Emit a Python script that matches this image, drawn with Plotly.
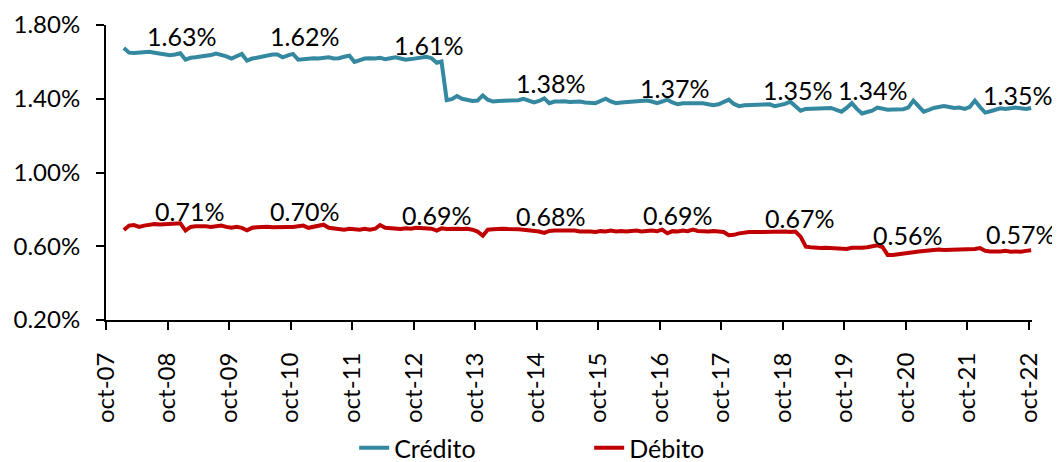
import pandas as pd
import plotly.graph_objects as go

# monthly observations, jan-08 .. oct-22 (percent)
credito = [
    # 2008
    1.675, 1.650, 1.648, 1.650, 1.652, 1.655, 1.650, 1.645, 1.638, 1.636, 1.640, 1.647,
    # 2009
    1.612, 1.622, 1.625, 1.628, 1.632, 1.637, 1.645, 1.640, 1.630, 1.618, 1.628, 1.643,
    # 2010
    1.607, 1.618, 1.622, 1.628, 1.630, 1.640, 1.640, 1.625, 1.635, 1.643, 1.612, 1.616,
    # 2011
    1.615, 1.620, 1.618, 1.622, 1.625, 1.618, 1.620, 1.628, 1.633, 1.600, 1.610, 1.618,
    # 2012
    1.620, 1.618, 1.622, 1.615, 1.620, 1.625, 1.618, 1.612, 1.615, 1.620, 1.625, 1.628,
    # 2013
    1.620, 1.595, 1.602, 1.393, 1.398, 1.415, 1.400, 1.393, 1.388, 1.390, 1.418, 1.395,
    # 2014
    1.385, 1.388, 1.390, 1.392, 1.394, 1.392, 1.400, 1.390, 1.380, 1.388, 1.402, 1.376,
    # 2015
    1.385, 1.385, 1.387, 1.383, 1.386, 1.385, 1.380, 1.378, 1.376, 1.388, 1.400, 1.385,
    # 2016
    1.376, 1.380, 1.382, 1.380, 1.383, 1.385, 1.390, 1.385, 1.376, 1.385, 1.395, 1.380,
    # 2017
    1.370, 1.376, 1.376, 1.378, 1.376, 1.375, 1.370, 1.365, 1.370, 1.385, 1.395, 1.372,
    # 2018
    1.360, 1.365, 1.365, 1.367, 1.365, 1.368, 1.370, 1.360, 1.365, 1.372, 1.384, 1.360,
    # 2019
    1.335, 1.345, 1.345, 1.347, 1.345, 1.348, 1.350, 1.340, 1.330, 1.350, 1.376, 1.345,
    # 2020
    1.320, 1.328, 1.335, 1.352, 1.345, 1.340, 1.342, 1.345, 1.343, 1.352, 1.390, 1.360,
    # 2021
    1.330, 1.340, 1.350, 1.355, 1.360, 1.355, 1.350, 1.352, 1.345, 1.355, 1.390, 1.355,
    # 2022
    1.325, 1.332, 1.340, 1.348, 1.345, 1.350, 1.352, 1.348, 1.345, 1.350,
]

debito = [
    # 2008
    0.688, 0.712, 0.715, 0.705, 0.712, 0.718, 0.720, 0.718, 0.720, 0.720, 0.722, 0.725,
    # 2009
    0.685, 0.705, 0.708, 0.710, 0.708, 0.705, 0.710, 0.712, 0.705, 0.700, 0.705, 0.700,
    # 2010
    0.687, 0.700, 0.703, 0.705, 0.706, 0.703, 0.705, 0.708, 0.705, 0.705, 0.708, 0.712,
    # 2011
    0.700, 0.705, 0.708, 0.717, 0.700, 0.698, 0.695, 0.690, 0.695, 0.693, 0.690, 0.695,
    # 2012
    0.690, 0.695, 0.715, 0.700, 0.697, 0.695, 0.693, 0.697, 0.695, 0.700, 0.698, 0.700,
    # 2013
    0.695, 0.685, 0.697, 0.693, 0.695, 0.695, 0.693, 0.695, 0.690, 0.680, 0.657, 0.690,
    # 2014
    0.692, 0.695, 0.695, 0.693, 0.695, 0.692, 0.690, 0.688, 0.685, 0.680, 0.672, 0.683,
    # 2015
    0.685, 0.685, 0.687, 0.683, 0.685, 0.680, 0.682, 0.680, 0.678, 0.682, 0.680, 0.685,
    # 2016
    0.680, 0.683, 0.680, 0.682, 0.685, 0.680, 0.683, 0.685, 0.682, 0.690, 0.670, 0.682,
    # 2017
    0.680, 0.685, 0.682, 0.690, 0.683, 0.680, 0.680, 0.682, 0.677, 0.677, 0.660, 0.662,
    # 2018
    0.670, 0.675, 0.677, 0.677, 0.678, 0.677, 0.676, 0.678, 0.677, 0.680, 0.677, 0.680,
    # 2019
    0.652, 0.598, 0.595, 0.592, 0.590, 0.592, 0.590, 0.593, 0.588, 0.585, 0.592, 0.590,
    # 2020
    0.592, 0.595, 0.600, 0.605, 0.596, 0.553, 0.553, 0.558, 0.560, 0.565, 0.568, 0.572,
    # 2021
    0.575, 0.578, 0.578, 0.582, 0.580, 0.580, 0.580, 0.580, 0.580, 0.582, 0.585, 0.590,
    # 2022
    0.575, 0.572, 0.570, 0.572, 0.575, 0.570, 0.572, 0.570, 0.575, 0.578,
]

fechas = pd.date_range("2008-01-01", "2022-10-01", freq="MS") + pd.Timedelta(days=14)

tick_fechas = [f"{y}-10-01" for y in range(2007, 2023)]
tick_textos = [f"oct-{y % 100:02d}" for y in range(2007, 2023)]

y_ticks = [0.2, 0.6, 1.0, 1.4, 1.8]
y_textos = [f"{v:.2f}%" for v in y_ticks]

etiquetas_credito = ["1.63%", "1.62%", "1.61%", "1.38%", "1.37%", "1.35%", "1.34%", "1.35%"]
etiquetas_debito = ["0.71%", "0.70%", "0.69%", "0.68%", "0.69%", "0.67%", "0.56%", "0.57%"]

# where each label sits (date, y in axis units)
pos_credito = [("2008-12-20", 1.740), ("2010-12-20", 1.740), ("2012-12-25", 1.692),
               ("2014-12-25", 1.488), ("2016-12-25", 1.461), ("2018-12-25", 1.447),
               ("2020-03-15", 1.447), ("2022-07-25", 1.420)]
pos_debito = [("2009-02-06", 0.791), ("2010-12-20", 0.791), ("2013-02-12", 0.770),
              ("2014-12-25", 0.762), ("2017-01-12", 0.770), ("2019-01-06", 0.751),
              ("2020-10-10", 0.662), ("2022-08-10", 0.669)]

AZUL = "#3489A0"
ROJO = "#C00000"
FONT = "Lato"

fig = go.Figure()
fig.add_trace(go.Scatter(x=fechas, y=credito, mode="lines", name="Crédito",
                         line=dict(color=AZUL, width=4)))
fig.add_trace(go.Scatter(x=fechas, y=debito, mode="lines", name="Débito",
                         line=dict(color=ROJO, width=4)))

for texto, (fx, fy) in list(zip(etiquetas_credito, pos_credito)) + list(zip(etiquetas_debito, pos_debito)):
    fig.add_annotation(x=fx, y=fy, text=texto, showarrow=False,
                       xanchor="center", yanchor="middle",
                       font=dict(family=FONT, size=25, color="black"))

# the page body adds an 8px offset, so the figure is drawn 8px smaller
fig.update_layout(
    width=1052, height=454,
    margin=dict(l=98, r=28, t=17, b=142, autoexpand=False),
    plot_bgcolor="white", paper_bgcolor="white",
    font=dict(family=FONT, size=24, color="black"),
    showlegend=True,
    legend=dict(orientation="h", x=0.268, xanchor="left", y=-0.434, yanchor="middle",
                entrywidth=190, entrywidthmode="pixels",
                font=dict(family=FONT, size=25, color="black")),
)
fig.update_xaxes(
    type="date", range=["2007-10-01", "2022-10-20"], automargin=False,
    tickmode="array", tickvals=tick_fechas, ticktext=tick_textos, tickangle=-90,
    showline=True, linecolor="black", linewidth=2,
    ticks="outside", ticklen=8, tickwidth=2, tickcolor="black",
    showgrid=False, zeroline=False, ticklabelstandoff=13,
)
fig.update_yaxes(
    range=[0.2, 1.8], automargin=False,
    tickmode="array", tickvals=y_ticks, ticktext=y_textos,
    showline=True, linecolor="black", linewidth=2,
    ticks="outside", ticklen=8, tickwidth=2, tickcolor="black",
    showgrid=False, zeroline=False, ticklabelstandoff=11,
)

fig.write_html("out.html")
